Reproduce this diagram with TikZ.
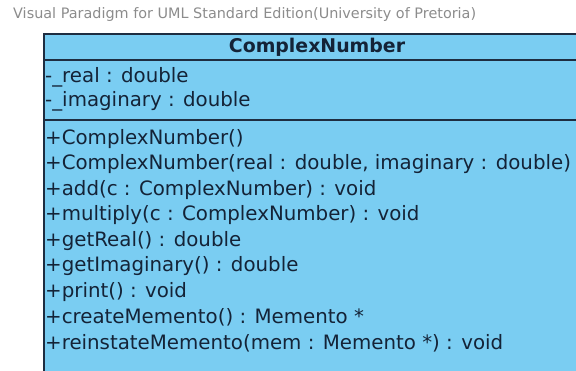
\documentclass[tikz,border=0pt]{standalone}
\usepackage{fontspec}
\setmainfont{DejaVu Sans}
\definecolor{classfill}{RGB}{122,205,242}
\definecolor{classline}{RGB}{30,45,65}
\definecolor{classtext}{RGB}{20,35,55}
\definecolor{markgray}{RGB}{140,140,140}
\begin{document}
\begin{tikzpicture}[x=1pt,y=-1pt,
    member/.style={anchor=west,inner sep=0pt,text=classtext,font=\fontsize{19.8}{22}\selectfont},
    title/.style={inner sep=0pt,text=classtext,font=\bfseries\fontsize{18.9}{22}\selectfont}]
    \useasboundingbox (0,0) rectangle (576,370);
    \begin{scope}
        \clip (0,0) rectangle (576,370);

        % watermark
        \node[anchor=west,inner sep=0pt,text=markgray,font=\fontsize{14.4}{16}\selectfont] (mark) at (13,15)
            {Visual Paradigm for UML Standard Edition(University of Pretoria)};

        % class box, runs past the right and bottom edges
        \fill[classfill] (44,34) rectangle (590,380);
        \draw[classline,line width=1.2pt] (44,380) -- (44,34) -- (590,34);
        \draw[classline,line width=1.2pt] (44,60) -- (590,60);
        \draw[classline,line width=1.2pt] (44,120) -- (590,120);

        \node[title] (name) at (317,47) {ComplexNumber};

        % attributes
        \node[member] (real) at (45,77) {-\_real : double};
        \node[member] (imag) at (45,101) {-\_imaginary : double};

        % operations
        \node[member] (ctor) at (45,139) {+ComplexNumber()};
        \node[member] (ctorargs) at (45,164.5) {+ComplexNumber(real : double, imaginary : double)};
        \node[member] (add) at (45,190) {+add(c : ComplexNumber) : void};
        \node[member] (mult) at (45,215.5) {+multiply(c : ComplexNumber) : void};
        \node[member] (getreal) at (45,241) {+getReal() : double};
        \node[member] (getimag) at (45,266.5) {+getImaginary() : double};
        \node[member] (print) at (45,292) {+print() : void};
        \node[member] (create) at (45,317.5) {+createMemento() : Memento *};
        \node[member] (reinstate) at (45,343) {+reinstateMemento(mem : Memento *) : void};
    \end{scope}
\end{tikzpicture}
\end{document}
